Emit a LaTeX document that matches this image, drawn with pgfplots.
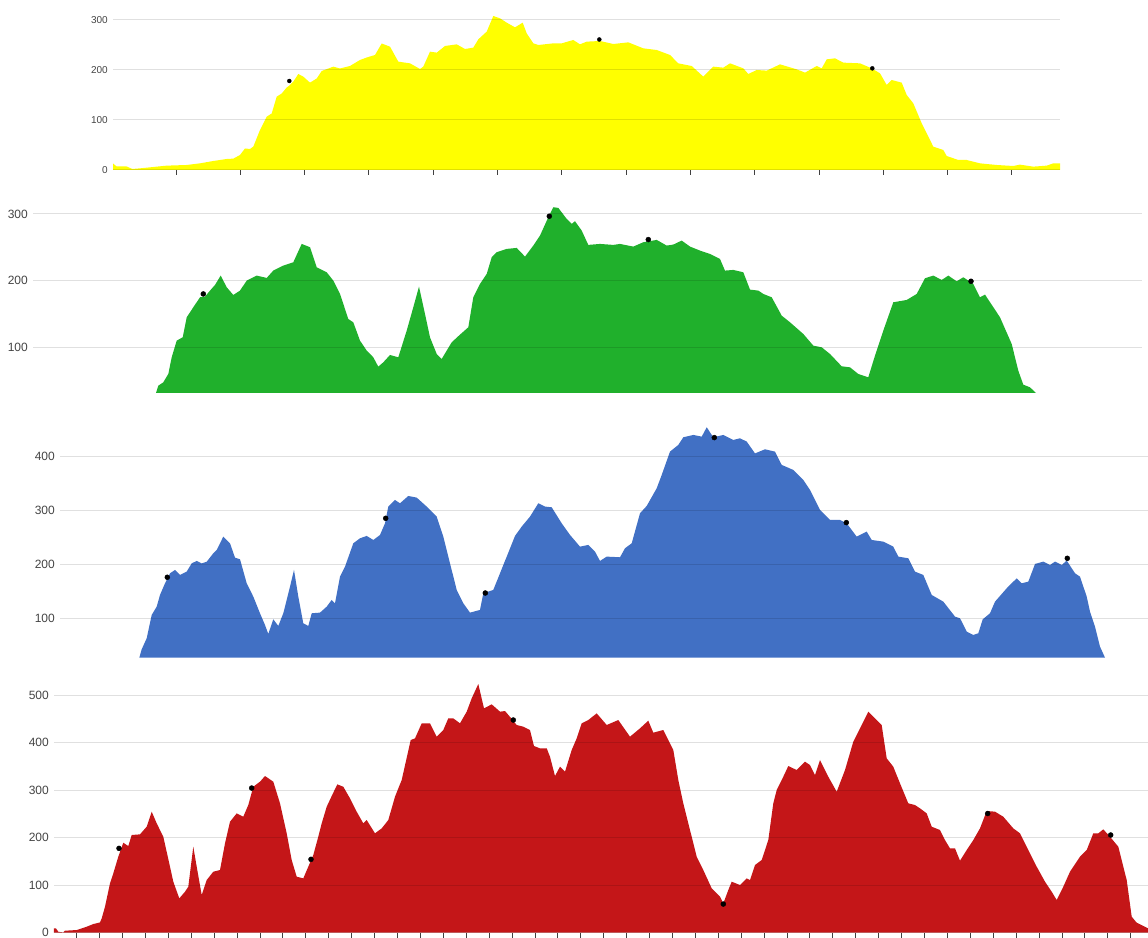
\documentclass[border=0pt]{standalone}
\usepackage{fontspec}
\setmainfont{Liberation Sans}
\usepackage{pgfplots}
\pgfplotsset{compat=1.18}

\definecolor{cyel}{RGB}{255,255,0}
\definecolor{cgrn}{RGB}{32,176,44}
\definecolor{cblu}{RGB}{65,112,196}
\definecolor{cred}{RGB}{196,22,24}
\definecolor{lbl}{RGB}{68,68,68}

% one style for the four stacked profiles; x is in picture pixels
\pgfplotsset{
  ridge/.style={
    scale only axis, anchor=south west, axis on top,
    axis line style={draw=none},
    ymajorgrids, grid style={black, opacity=0.12, line width=1bp},
    ytick style={draw=none},
    xtick=\empty, xticklabels={},
    tick align=outside, major tick length=5bp,
    xtick pos=left, ytick pos=left,
    x tick style={draw=black!75, line width=0.9bp},
    yticklabel style={text=lbl, inner sep=0pt},
    /pgf/number format/assume math mode=true,
  },
  area/.style={draw=none, fill=#1},
  dots/.style={only marks, mark=*, mark size=#1, black},
}

\begin{document}
\begin{tikzpicture}
\useasboundingbox (0,0) rectangle (1148bp,938bp);

% yellow
\begin{axis}[ridge, at={(113bp,768bp)}, width=947bp, height=165bp,
  xmin=113, xmax=1060, ymin=0, ymax=330, ytick={0,100,200,300},
  xtick={176,240.3,...,1013},
  yticklabel style={font=\fontsize{10bp}{12bp}\selectfont}]
\addplot[area=cyel] coordinates {
(113,13)(116.7,7)(126.7,7)(132.3,2)(140,3.3)(166.7,8.7)(186.7,10)(200,13.3)
(213.3,18)(226.7,22)(233.3,22.7)(240,30)(245,43)(250,42)(253.3,46.7)(260,80)
(266.7,106.7)(271.7,113)(276.7,146.7)(281.7,153)(286.7,165)(290,170)(293.3,176.7)
(298.3,192)(303.3,186.7)(310,174.7)(316.7,183)(321.7,198)(333.3,206.7)(340,203)
(350,208)(360,220)(366.7,225)(375,230)(381.7,253)(390,246.7)(398.3,216.7)
(410,213.3)(420,202)(423.3,206.7)(430,236.7)(436.7,234.7)(445,248)(456.7,251.3)
(465,242)(473.3,244.7)(478.3,261.3)(486.7,276.7)(493.3,308)(500,303.3)(506.7,294.7)
(515,285.3)(522.7,294.7)(526.7,273.3)(533.3,253.3)(538.3,250)(553.3,253.3)
(561.7,253.3)(573.3,260)(580,251.3)(586.7,256.7)(600,258)(613.3,252)(628.3,255.3)
(643.3,243.3)(656.7,240)(670,230)(678.3,213.3)(691.7,208)(703.3,186.7)(713.3,206.7)
(723.3,204.7)(730,213.3)(743.3,203.3)(748.3,192)(756.7,200)(766.7,198.7)(780,211.3)
(796.7,201.3)(805,194.7)(816.7,208)(821.7,203.3)(826.7,221.3)(835,223.3)(843.3,214.7)
(860,213.3)(871.7,203.3)(880,193.3)(886.7,170)(891.7,180)(901.7,174.7)(906.7,150)
(913.3,133.3)(921.7,93.3)(933.3,46.7)(943.3,40)(946.7,28)(958.3,20)(966.7,20)
(980,13.3)(996.7,10)(1013.3,8)(1020,10.7)(1033.3,6.7)(1046.7,8.7)(1053.3,13.3)(1060,13.3)
} \closedcycle;
\addplot[dots=2bp] coordinates {(289.3,178)(599.3,261)(872.3,203.3)};
\end{axis}

% green
\begin{axis}[ridge, at={(33bp,545bp)}, width=1109bp, height=199.1bp,
  xmin=33, xmax=1142, ymin=31.5, ymax=330, ytick={100,200,300},
  yticklabel style={font=\fontsize{12bp}{14bp}\selectfont}]
\addplot[area=cgrn] coordinates {
(156,31.5)(158.3,42.5)(163.3,47.5)(168.3,60)(171.7,85)(176.7,110)(182.7,115)
(186.7,145)(193.3,160)(200,175)(205,176)(210,185)(215,193.5)(220.7,207.5)(226.7,190)
(233.3,178.5)(240,185)(246.7,200)(256.7,207.5)(266.7,204)(273.3,215)(283.3,222.5)
(293.3,227.5)(301.7,255)(310,250)(316.7,220)(326.7,212.5)(333.3,200)(340,180)
(348.3,142.5)(353.3,137.5)(360,110)(366.7,95)(373.3,85)(378.3,71)(383.3,77.5)
(390,88.5)(398.3,85)(406.7,125)(413.3,160)(419,191)(425,150)(430,115)(436.7,90)
(441.7,82.5)(446.7,95)(451.7,107.5)(460,119)(468.3,130)(473.3,175)(480,195)
(486.7,210)(491.7,235)(496.7,242.5)(506.7,247.5)(516.7,249)(525,236)(533.3,252.5)
(540,267.5)(548.3,295)(553.3,310)(558.3,309)(566.7,292.5)(571.7,285)(575,289)
(581.7,275)(588.3,253.5)(600,255)(613.3,253.5)(620,255)(633.3,251)(643.3,257.5)
(656.7,261)(666.7,252.5)(673.3,254)(681.7,260)(690,251)(700,245)(710,240)(720,232.5)
(725,215)(733.3,216)(743.3,212.5)(750,186.5)(758.3,185)(763.3,180)(771.7,175)
(781.7,147.5)(790,137.5)(803.3,120)(813.3,102.5)(821.7,100)(830,90)(841.7,71.5)
(850,70)(858.3,60)(868.3,55)(875,87.5)(883.3,125)(893.3,167.5)(906.7,171)(916.7,180)
(925,203.5)(933.3,207.5)(941.7,201)(948.3,207.5)(956.7,199)(963.3,205)(973.3,195)
(980,175)(985,179)(1000,145)(1011.7,105)(1018.3,65)(1023.3,44)(1030,40)(1036,31.5)
} \closedcycle;
\addplot[dots=2.5bp] coordinates {(203.3,180)(549.3,296.5)(648.3,261.5)(971,199)};
\end{axis}

% blue
\begin{axis}[ridge, at={(60bp,280.3bp)}, width=1088bp, height=244.2bp,
  xmin=60, xmax=1148, ymin=27, ymax=480, ytick={100,200,300,400},
  yticklabel style={font=\fontsize{12bp}{14bp}\selectfont}]
\addplot[area=cblu] coordinates {
(139.3,27)(141.7,42.6)(146.7,63)(151.7,106.3)(156.7,121.7)(160,143.4)(165,165)
(170,183.6)(175,189.8)(180,180.5)(186.7,186.7)(191.7,202)(196.7,206.5)(201.7,202)
(206.7,205)(213.3,220.7)(216.7,226.9)(223.3,251.6)(230,239.2)(235,212.6)(240,209.6)
(246.7,165)(253.3,140.3)(260,109.4)(265,87.7)(268.3,71)(273.3,98.2)(278.3,85.9)
(283.3,109.4)(290,158.8)(294,189.8)(298.3,140.3)(303.3,90.8)(308.3,85.9)(311.7,109.4)
(320,110.6)(326.7,121.7)(331.7,134.1)(335,127.9)(340,177.4)(345,195.9)(353.3,239.2)
(360,248.5)(366.7,252.9)(373.3,245.4)(380,254.7)(385,276.3)(388.3,307.3)(395,319.6)
(400,313.5)(408.3,327)(416.7,324)(426.7,307.3)(436.7,288.7)(443.3,251.6)(450,202)
(456.7,152.7)(463.3,128)(470,110.6)(480,115.6)(483.3,146.5)(493.3,152.7)(500,183.6)
(506.7,214.5)(515,252.9)(521.7,270.2)(530,288.7)(538.3,313.5)(545,307.3)(551.7,306)
(561.7,276.3)(570,254.7)(580,233)(588.3,236.2)(595,223.8)(600,206.5)(606.7,214.5)
(620,213.3)(625,230)(631.7,239.2)(640,294.9)(646.7,308.5)(656.7,341.3)(661.7,366)
(670,409.3)(678.3,421.7)(683.3,435.9)(693.3,440.2)(701.7,437.1)(706.7,454.4)
(713.3,435.9)(723.3,440.2)(733.3,430.9)(740,434)(746.7,427.9)(755,406)(765,413.6)
(775,409.3)(781.7,384.6)(793.3,375.3)(803.3,356.7)(810,338.2)(820,301)(830,282.5)
(840,282.5)(846.7,276.3)(856.7,251.6)(866.7,260.9)(871.7,245.4)(883.3,242.3)
(893.3,233)(898.3,214.5)(908.3,211.4)(915,186.7)(923.3,180.5)(931.7,143.4)(943.3,131)
(955,103.2)(960,100.1)(966.7,75.4)(973.3,69.2)(978.3,72.3)(982.7,98.2)(990,109.4)
(995,131)(1006.7,155.8)(1016.7,174.3)(1021.7,165)(1028.3,168.1)(1035,200.9)
(1043.3,205.2)(1050,199)(1055,205.2)(1061.7,199)(1066.7,207.1)(1075,183.6)(1080,177.4)
(1086.7,140.3)(1090,112.5)(1095,84.6)(1100,47.5)(1105,27)
} \closedcycle;
\addplot[dots=2.5bp] coordinates {(167.3,176.2)(385.7,285.6)(485.3,147)(714.3,435.3)(846.3,277.6)(1067.3,211.4)};
\end{axis}

% red
\begin{axis}[ridge, at={(54bp,5.3bp)}, width=1094bp, height=256.7bp,
  xmin=54, xmax=1148, ymin=0, ymax=540, ytick={0,100,200,300,400,500},
  xtick={76.7,99.613,...,1131},
  yticklabel style={font=\fontsize{12bp}{14bp}\selectfont}]
\addplot[area=cred] coordinates {
(54,9)(56,9)(58.3,2)(63.3,0.5)(65,4.2)(76.7,5.6)(86.7,12.6)(93.3,18.2)(100,21.7)
(101.7,30)(105,54.7)(110,103.8)(113.3,124.8)(118.3,159.9)(123.3,189.3)(128.3,182.3)
(131.7,205.5)(140,206.9)(146.7,223)(151.7,254.6)(156.7,230)(163.3,202)(170,138.9)
(173.3,107.3)(179.3,72.2)(185,86.2)(188.3,96.8)(193.3,180.9)(196.7,138.9)(201.7,79.2)
(206.7,110.8)(213.3,128.3)(220,131.8)(225,188)(230,233.5)(236.7,251)(243.3,244)
(248.3,268.6)(253.3,307.1)(260,317.7)(265,329.6)(273.3,317.7)(280,272.1)(286.7,209)
(291.7,152.9)(296.7,117.8)(303.3,114.3)(308.3,138.9)(313.3,163.4)(318.3,202)
(321.7,230)(326.7,265.1)(331.7,287.5)(337.3,312)(343.3,307.1)(350,282.6)(356.7,254.6)
(363.3,230)(366.7,237)(375,209)(381.7,219.5)(388.3,237)(395,286.1)(401.7,321.2)
(410.7,405.3)(415,408.8)(421.7,440.4)(430,440.4)(436.7,412.3)(443.3,426.4)
(448.3,450.9)(453.3,450.9)(460,440.4)(466.7,465)(471.7,493)(478.3,523.1)(484,471.9)
(491.7,480.4)(500,465)(505,466.3)(512.7,447.4)(516.7,436.9)(523.3,433.4)(530,426.4)
(534,392.7)(540,387.8)(546.7,387.8)(550,370.3)(555,329.6)(560,349.2)(565,338.7)
(571.7,384.3)(576.7,408.8)(581.7,440.4)(588.3,447.4)(596.7,461.4)(606.7,436.9)
(618.3,447.4)(630,412.3)(640,429.9)(648.3,446)(653.3,420.8)(663.3,426.4)(670,398.3)
(673.3,384.3)(678.3,321.2)(683.3,272.1)(690,216)(696.7,159.9)(703.3,131.8)(711.7,93.3)
(720,75.7)(723.3,61.7)(728.3,89.7)(731.7,107.3)(740,100.3)(746.7,114.3)(750,110.8)
(755,142.3)(761.7,152.9)(768.3,194.9)(773.3,272.1)(776.7,300.1)(783.3,328.2)
(788.3,350.6)(796.7,342.2)(805,359.7)(810,352.7)(815,331.7)(820,363.3)(828.3,328.2)
(836.7,296.6)(845,342.2)(853.3,401.8)(861.7,436.9)(868.3,464.9)(875,450.9)(881.7,436.9)
(886.7,366.8)(893.3,349.2)(900,314.2)(908.3,272.1)(915,268.6)(920,261.6)(926.7,251)
(931.7,223)(940,216)(945,194.9)(950,177.4)(955,177.4)(960,151.5)(966.7,173.9)
(973.3,194.9)(980,219.5)(986.7,256)(995,254.6)(1003.3,244)(1013.3,219.5)(1020,209)
(1026.7,180.9)(1036.7,138.9)(1045,107.3)(1051.7,86.2)(1056.7,68.7)(1063.3,96.8)
(1070,128.3)(1080,159.9)(1086.7,173.9)(1093.3,209)(1098.3,209)(1103.3,217.4)(1110,201.9)
(1118.3,180.9)(1126.7,110.8)(1131.7,33.7)(1136.7,21)(1148,9.1)
} \closedcycle;
\addplot[dots=2.5bp] coordinates {(119,177.4)(251.7,304.3)(311,154.3)(513.3,447.4)(723.3,60.3)(987.7,250.7)(1110.7,205.5)};
\end{axis}
\end{tikzpicture}
\end{document}
